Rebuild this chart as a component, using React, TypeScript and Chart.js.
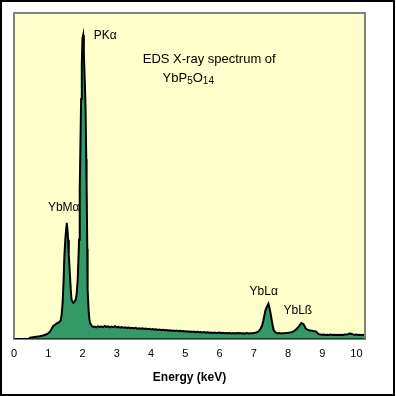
import React, { useEffect, useRef } from "react";
import { Chart, registerables } from "chart.js";

Chart.register(...registerables);

// Energy (keV) of each channel sample
const energyKeV: number[] = [
  0.44, 0.46, 0.55, 0.65, 0.75, 0.85, 0.95, 1.0, 1.05, 1.1, 1.15, 1.2, 1.25, 1.29, 1.33, 1.36, 1.39, 1.42, 1.45, 1.47,
  1.5, 1.53, 1.54, 1.56, 1.58, 1.6, 1.63, 1.66, 1.68, 1.71, 1.73, 1.76, 1.8, 1.83, 1.86, 1.88, 1.9, 1.92, 1.94, 1.96,
  1.98, 2.0, 2.02, 2.04, 2.07, 2.09, 2.11, 2.12, 2.14, 2.15, 2.18, 2.2, 2.22, 2.25, 2.28, 2.31,
  2.35, 2.4, 2.45, 2.5, 2.55, 2.6, 2.65, 2.7, 2.75, 2.8, 2.85, 2.9, 2.95, 3.0, 3.05, 3.1, 3.15, 3.2, 3.25, 3.3, 3.35,
  3.4, 3.45, 3.5, 3.55, 3.6, 3.65, 3.7, 3.75, 3.8, 3.85, 3.9, 3.95, 4.0, 4.05, 4.1, 4.15, 4.2, 4.25, 4.3, 4.35, 4.4,
  4.45, 4.5, 4.55, 4.6, 4.65, 4.7, 4.75, 4.8, 4.85, 4.9, 4.95, 5.0, 5.05, 5.1, 5.15, 5.2, 5.25, 5.3, 5.35, 5.4, 5.45,
  5.5, 5.55, 5.6, 5.65, 5.7, 5.75, 5.8, 5.85, 5.9, 5.95, 6.0, 6.05, 6.1, 6.15, 6.2, 6.25, 6.3, 6.35, 6.4, 6.45, 6.5,
  6.55, 6.6, 6.65, 6.7, 6.75, 6.8, 6.85, 6.9, 6.95, 7.0, 7.05, 7.1, 7.15, 7.2, 7.25, 7.28, 7.31, 7.34, 7.37, 7.4,
  7.43, 7.46, 7.49, 7.52, 7.55, 7.58, 7.62, 7.66, 7.7, 7.75, 7.8, 7.85, 7.9, 7.95, 8.0, 8.05, 8.1, 8.15, 8.2, 8.25,
  8.3, 8.35, 8.39, 8.42, 8.45, 8.48, 8.51, 8.54, 8.58, 8.62, 8.66, 8.7, 8.74, 8.78, 8.82, 8.86, 8.9, 8.95, 9.0, 9.05,
  9.1, 9.15, 9.2, 9.25, 9.3, 9.35, 9.4, 9.45, 9.5, 9.55, 9.6, 9.65, 9.7, 9.75, 9.8, 9.85, 9.9, 9.95, 10.0, 10.05,
  10.1, 10.15, 10.2, 10.23,
];

// Counts (arbitrary units) at each energy
const counts: number[] = [
  0, 1, 1.5, 2, 2.5, 3.3, 4.5, 5.5, 7, 10, 13, 14, 15.5, 16, 17, 18, 24, 36, 60, 82,
  100, 112, 116, 110, 99, 84, 66, 48, 39, 37, 36, 37, 39, 45, 59, 78, 99, 150, 194, 240,
  275, 301, 304, 285, 255, 231, 180, 156, 90, 49, 28, 20, 16, 14, 12.5, 12,
  12, 11.5, 12.5, 11.8, 12.3, 11.6, 12.8, 11.9, 12.4, 11.5, 12.2, 11.7, 12.6, 11.4, 11.9, 11.2, 11.8, 11.0, 11.5, 10.8, 11.3,
  10.6, 11.0, 10.4, 10.9, 10.2, 10.6, 10.0, 10.5, 9.8, 10.2, 9.6, 10.0, 9.4, 9.8, 9.2, 9.5, 8.9, 9.3, 8.7, 9.0, 8.5,
  8.8, 8.3, 8.6, 8.1, 8.4, 7.9, 8.2, 7.7, 8.0, 7.5, 7.8, 7.3, 7.6, 7.1, 7.3, 6.9, 7.2, 6.7, 7.0, 6.6, 6.8,
  6.4, 6.7, 6.2, 6.5, 6.1, 6.3, 5.9, 6.2, 5.8, 6.0, 6.3, 5.7, 6.0, 5.6, 5.9, 5.5, 5.8, 5.4, 5.7, 5.3, 5.8,
  5.5, 5.7, 5.3, 5.6, 5.4, 5.7, 5.3, 5.6, 5.5, 5.8, 6.0, 6.6, 7.8, 10, 14, 18, 23, 28, 31, 33,
  35, 31, 26, 20, 14, 9, 7, 5.8, 5.5, 5.7, 5.4, 5.6, 5.5, 5.8, 5.9, 6.2, 6.6, 7.2, 8.3, 9.8,
  11.5, 14, 15.7, 15.2, 14.7, 13, 10.8, 9.6, 9.0, 8.6, 8.4, 8.2, 7.8, 7.6, 7.2, 5.8, 4.6, 4.2, 4.0, 4.3,
  3.9, 4.1, 3.8, 4.2, 3.9, 4.0, 3.7, 4.1, 3.8, 4.0, 3.7, 4.2, 4.4, 4.6, 5.2, 5.0, 4.4, 4.0, 4.2, 3.8,
  4.0, 3.7, 4.1, 3.9,
];

const xTickValues: number[] = [0, 1, 2, 3, 4, 5, 6, 7, 8, 9, 10];
const xMin = 0;
const xMax = 10.25;
const yMax = 326;
const xAxisTitle = "Energy (keV)";

// Peak labels and their anchor (energy, counts)
const peakLabels: string[] = ["PKα", "YbMα", "YbLα", "YbLß"];
const peakLabelE: number[] = [2.33, 0.99, 6.88, 7.87];
const peakLabelC: number[] = [303.5, 131, 47, 28];

const titleLine1 = "EDS X-ray spectrum of";
const titleLine1E = 3.76;
const titleLine1C = 280;
// formula pieces: [text, isSubscript]
const formulaParts: [string, boolean][] = [["YbP", false], ["5", true], ["O", false], ["14", true]];
const formulaE = 4.34;
const formulaC = 261;

const FONT = "'Liberation Sans', Arial, sans-serif";

export default function App() {
  const canvasRef = useRef<HTMLCanvasElement | null>(null);

  useEffect(() => {
    if (!canvasRef.current) return;

    const framePlugin = {
      id: "frame",
      beforeDraw(chart: any) {
        const { ctx, chartArea } = chart;
        ctx.save();
        ctx.fillStyle = "#ffffff";
        ctx.fillRect(0, 0, chart.width, chart.height);
        ctx.fillStyle = "#FFFFCC";
        ctx.fillRect(chartArea.left, chartArea.top, chartArea.right - chartArea.left, chartArea.bottom - chartArea.top);
        ctx.restore();
      },
      afterDatasetsDraw(chart: any) {
        const { ctx, chartArea } = chart;
        ctx.save();
        ctx.strokeStyle = "#808080";
        ctx.lineWidth = 2;
        ctx.beginPath();
        ctx.moveTo(chartArea.left, chartArea.bottom);
        ctx.lineTo(chartArea.left, chartArea.top);
        ctx.lineTo(chartArea.right, chartArea.top);
        ctx.lineTo(chartArea.right, chartArea.bottom);
        ctx.stroke();
        ctx.restore();
      },
      afterDraw(chart: any) {
        const { ctx } = chart;
        const xs = chart.scales.x;
        const ys = chart.scales.y;
        ctx.save();
        ctx.fillStyle = "#000000";
        ctx.textBaseline = "middle";
        ctx.textAlign = "left";
        ctx.font = `12px ${FONT}`;
        for (let i = 0; i < peakLabels.length; i++) {
          ctx.fillText(peakLabels[i], xs.getPixelForValue(peakLabelE[i]), ys.getPixelForValue(peakLabelC[i]));
        }
        ctx.font = `13px ${FONT}`;
        ctx.fillText(titleLine1, xs.getPixelForValue(titleLine1E), ys.getPixelForValue(titleLine1C));
        let fx = xs.getPixelForValue(formulaE);
        const fy = ys.getPixelForValue(formulaC);
        for (const [txt, sub] of formulaParts) {
          ctx.font = sub ? `10px ${FONT}` : `13px ${FONT}`;
          ctx.fillText(txt, fx, sub ? fy + 3 : fy);
          fx += ctx.measureText(txt).width;
        }
        // outer frame
        ctx.strokeStyle = "#000000";
        ctx.lineWidth = 2;
        ctx.strokeRect(1, 1, chart.width - 3, chart.height - 2);
        ctx.restore();
      },
    };

    const chart = new Chart(canvasRef.current, {
      type: "line",
      data: {
        datasets: [
          {
            data: energyKeV.map((e, i) => ({ x: e, y: counts[i] })),
            borderColor: "#000000",
            borderWidth: 2,
            backgroundColor: "#339966",
            fill: "origin",
            pointRadius: 0,
            tension: 0,
          },
        ],
      },
      options: {
        responsive: false,
        animation: false,
        layout: { padding: { left: 14, right: 31, top: 13, bottom: 9.6 } },
        plugins: { legend: { display: false }, tooltip: { enabled: false }, title: { display: false } },
        scales: {
          x: {
            type: "linear",
            min: xMin,
            max: xMax,
            afterBuildTicks: (scale: any) => {
              scale.ticks = xTickValues.map((v) => ({ value: v }));
            },
            grid: { display: false, drawTicks: false },
            border: { display: true, color: "#000000", width: 1.5 },
            ticks: {
              padding: 9,
              color: "#000000",
              font: { family: FONT, size: 11 },
              maxRotation: 0,
              autoSkip: false,
            },
            title: {
              display: true,
              text: xAxisTitle,
              color: "#000000",
              font: { family: FONT, size: 12, weight: "bold" },
              padding: { top: 0, bottom: 2 },
            },
          },
          y: { display: false, min: 0, max: yMax },
        },
      },
      plugins: [framePlugin],
    });
    return () => chart.destroy();
  }, []);

  return (
    <div style={{ position: "fixed", left: 0, top: 0, width: 396, height: 396 }}>
      <canvas ref={canvasRef} width={396} height={396} style={{ display: "block" }} />
    </div>
  );
}
